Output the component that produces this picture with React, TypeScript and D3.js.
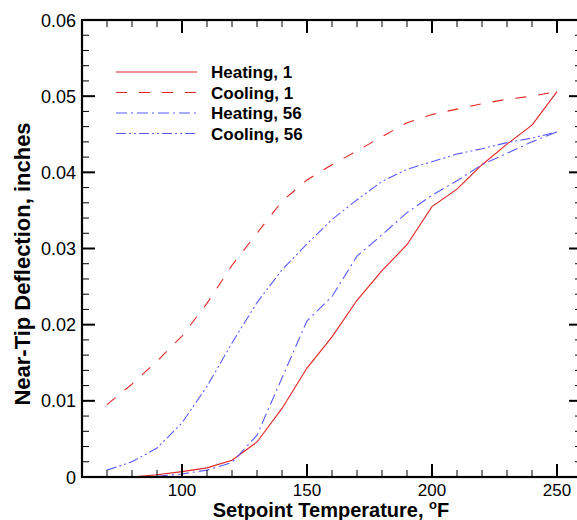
import React from "react";
import * as d3 from "d3";

const temps = [70, 80, 90, 100, 110, 120, 130, 140, 150, 160, 170, 180, 190, 200, 210, 220, 230, 240, 250];
const heating1T = [80, 90, 100, 110, 120, 130, 140, 150, 160, 170, 180, 190, 200, 210, 220, 230, 240, 250];
const heating1 = [0, 0.0003, 0.0007, 0.0012, 0.0022, 0.0046, 0.009, 0.0143, 0.0184, 0.0232, 0.0271, 0.0305, 0.0355, 0.0378, 0.041, 0.0437, 0.0462, 0.0506];
const cooling1 = [0.0095, 0.0122, 0.0152, 0.0185, 0.0228, 0.0278, 0.032, 0.0362, 0.039, 0.041, 0.0428, 0.0447, 0.0465, 0.0476, 0.0483, 0.049, 0.0496, 0.05, 0.0506];
const heating56T = [90, 100, 110, 120, 130, 140, 150, 160, 170, 180, 190, 200, 210, 220, 230, 240, 250];
const heating56 = [0.0001, 0.0004, 0.0009, 0.0019, 0.0055, 0.013, 0.0205, 0.0237, 0.029, 0.0318, 0.0347, 0.037, 0.0389, 0.041, 0.0425, 0.044, 0.0453];
const cooling56 = [0.0009, 0.002, 0.0038, 0.0071, 0.0119, 0.0176, 0.0229, 0.0272, 0.0306, 0.0338, 0.0364, 0.0388, 0.0404, 0.0414, 0.0424, 0.0431, 0.0439, 0.0445, 0.0453];

const xMajor = [100, 150, 200, 250];
const yMajor = [0, 0.01, 0.02, 0.03, 0.04, 0.05, 0.06];
const yLabels = ["0", "0.01", "0.02", "0.03", "0.04", "0.05", "0.06"];

const RED = "#e42222";
const BLUE = "#5a5aff";

const seriesDefs = [
  { name: "Heating, 1", xs: heating1T, ys: heating1, color: RED, dash: "none" },
  { name: "Cooling, 1", xs: temps, ys: cooling1, color: RED, dash: "11,12" },
  { name: "Heating, 56", xs: heating56T, ys: heating56, color: BLUE, dash: "11,4,2,4" },
  { name: "Cooling, 56", xs: temps, ys: cooling56, color: BLUE, dash: "10,3,2,3,2,3" },
];

export default function App() {
  const left = 82, right = 582, top = 20, bottom = 477;
  const x = d3.scaleLinear().domain([60, 260]).range([left, right]);
  const y = d3.scaleLinear().domain([0, 0.06]).range([bottom, top]);
  const line = d3.line<[number, number]>().x(d => x(d[0])).y(d => y(d[1]));

  const xMinor = d3.range(60, 261, 10).filter(v => !xMajor.includes(v));
  const yMinor = d3.range(0, 0.0601, 0.002).filter(v => !yMajor.some(m => Math.abs(m - v) < 1e-6));

  const font = "Arial, 'Liberation Sans', sans-serif";
  const legX1 = 116, legX2 = 197, legTextX = 211, legY0 = 72, legDy = 20.5;

  return (
    <div style={{ position: "absolute", left: 0, top: 0 }}>
      <svg width={577} height={520} style={{ display: "block", background: "#fff" }}>
        {seriesDefs.map((s, i) => (
          <path key={i} d={line(s.xs.map((t, j) => [t, s.ys[j]] as [number, number])) || ""}
            fill="none" stroke={s.color} strokeWidth={1.1} strokeDasharray={s.dash} />
        ))}
        {/* frame */}
        <rect x={left} y={top} width={right - left} height={bottom - top} fill="none" stroke="#000" strokeWidth={2.2} />
        {/* x ticks */}
        {xMinor.map(v => (
          <g key={"xm" + v} stroke="#000" strokeWidth={1}>
            <line x1={x(v)} x2={x(v)} y1={bottom} y2={bottom - 7} />
            <line x1={x(v)} x2={x(v)} y1={top} y2={top + 7} />
          </g>
        ))}
        {xMajor.map(v => (
          <g key={"xM" + v}>
            <line x1={x(v)} x2={x(v)} y1={bottom} y2={bottom - 13} stroke="#000" strokeWidth={2} />
            <line x1={x(v)} x2={x(v)} y1={top} y2={top + 13} stroke="#000" strokeWidth={2} />
            <text x={x(v)} y={496} textAnchor="middle" fontFamily={font} fontSize={17}>{v}</text>
          </g>
        ))}
        {/* y ticks */}
        {yMinor.map(v => (
          <g key={"ym" + v} stroke="#000" strokeWidth={1}>
            <line x1={left} x2={left + 7} y1={y(v)} y2={y(v)} />
            <line x1={right} x2={right - 7} y1={y(v)} y2={y(v)} />
          </g>
        ))}
        {yMajor.map((v, i) => (
          <g key={"yM" + v}>
            <line x1={left} x2={left + 13} y1={y(v)} y2={y(v)} stroke="#000" strokeWidth={2} />
            <line x1={right} x2={right - 13} y1={y(v)} y2={y(v)} stroke="#000" strokeWidth={2} />
            <text x={left - 6} y={y(v) + 6.5} textAnchor="end" fontFamily={font} fontSize={18}>{yLabels[i]}</text>
          </g>
        ))}
        {/* axis titles */}
        <text x={331} y={517} textAnchor="middle" fontFamily={font} fontSize={20} fontWeight="bold">
          Setpoint Temperature, <tspan fontSize={13} dy={-8}>o</tspan><tspan dy={8}>F</tspan>
        </text>
        <text transform={`translate(30,264) rotate(-90)`} textAnchor="middle"
          fontFamily={font} fontSize={22} fontWeight="bold">Near-Tip Deflection, inches</text>
        {/* legend */}
        {seriesDefs.map((s, i) => (
          <g key={"leg" + i}>
            <line x1={legX1} x2={legX2} y1={legY0 + i * legDy} y2={legY0 + i * legDy}
              stroke={s.color} strokeWidth={1.1} strokeDasharray={s.dash} />
            <text x={legTextX} y={legY0 + i * legDy + 6} fontFamily={font} fontSize={17} fontWeight="bold">{s.name}</text>
          </g>
        ))}
      </svg>
    </div>
  );
}
